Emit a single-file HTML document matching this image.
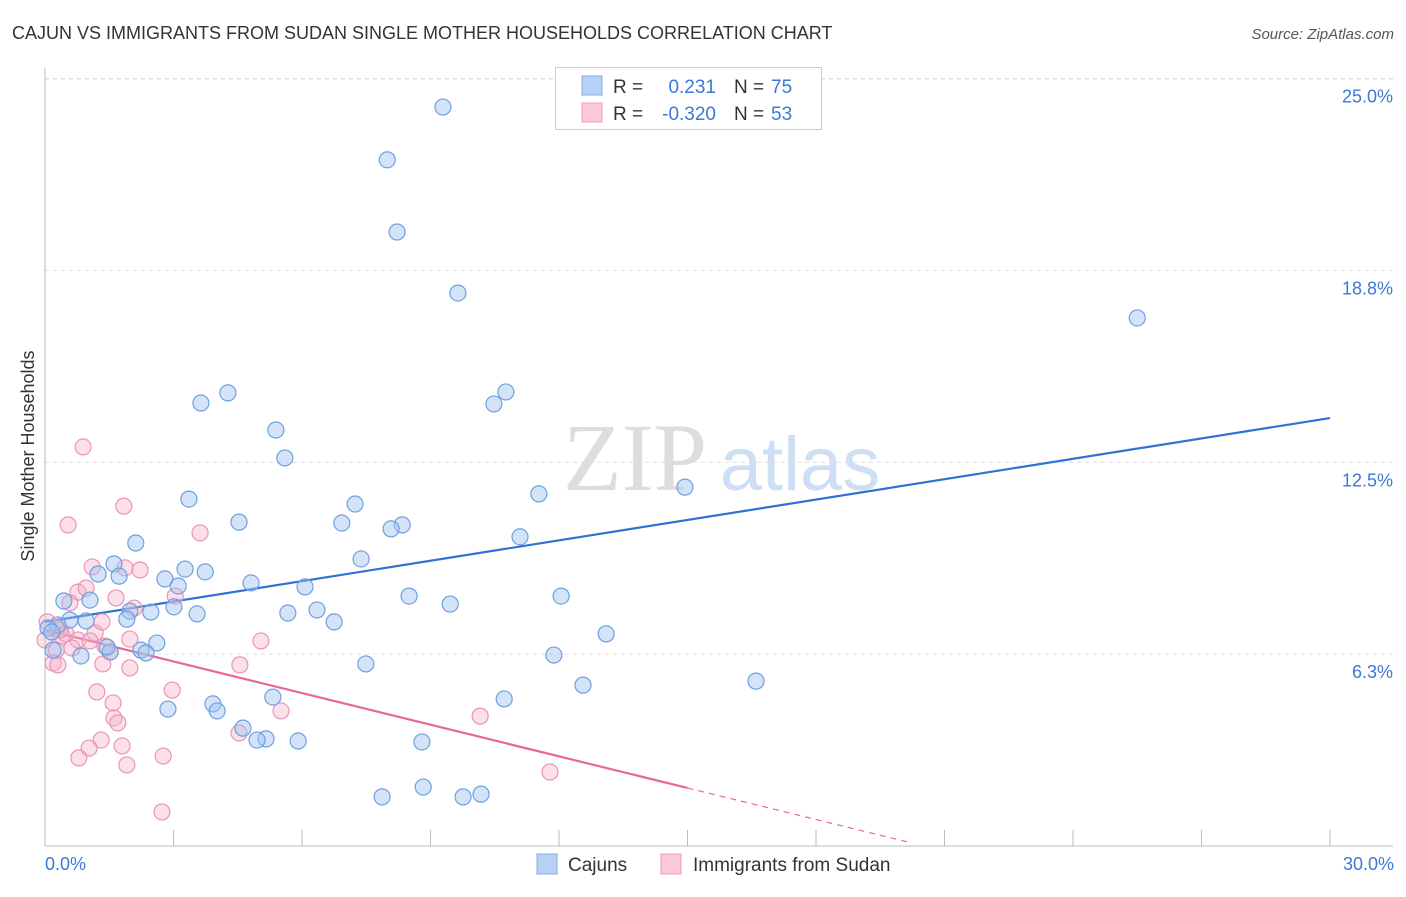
<!DOCTYPE html>
<html><head><meta charset="utf-8"><style>
body{margin:0;background:#fff;font-family:"Liberation Sans",sans-serif;}
</style></head><body>
<svg id="chart" width="1406" height="892" xmlns="http://www.w3.org/2000/svg">
<text x="12" y="39" font-size="18" fill="#333">CAJUN VS IMMIGRANTS FROM SUDAN SINGLE MOTHER HOUSEHOLDS CORRELATION CHART</text>
<text x="1394" y="39" font-size="15" fill="#555" font-style="italic" text-anchor="end">Source: ZipAtlas.com</text>
<g>
<text x="635" y="490" font-size="96" fill="#ddd" font-family="Liberation Serif,serif" text-anchor="middle">ZIP</text>
<text x="800" y="490" font-size="76" fill="#cfdff3" text-anchor="middle">atlas</text>
</g>
<g id="grid"></g><g id="axes"></g><g id="trend"></g><g id="pts"></g>
<text transform="translate(34,456) rotate(-90)" font-size="18" fill="#333" text-anchor="middle">Single Mother Households</text>
<text x="45" y="870" font-size="18" fill="#3b78d8">0.0%</text>
<text x="1394" y="870" font-size="18" fill="#3b78d8" text-anchor="end">30.0%</text>
<g>
<rect x="555.5" y="67.5" width="266" height="62" fill="#fff" stroke="#ccc"/>
<rect x="582" y="76" width="20" height="19" fill="#b8d2f5" stroke="#85aee6"/>
<rect x="582" y="103" width="20" height="19" fill="#fbc8d8" stroke="#ef9ab8"/>
<text x="613" y="93" font-size="19" fill="#333">R =</text>
<text x="716" y="93" font-size="19" fill="#3b78d8" text-anchor="end">0.231</text>
<text x="734" y="93" font-size="19" fill="#333">N =</text>
<text x="771" y="93" font-size="19" fill="#3b78d8">75</text>
<text x="613" y="120" font-size="19" fill="#333">R =</text>
<text x="716" y="120" font-size="19" fill="#3b78d8" text-anchor="end">-0.320</text>
<text x="734" y="120" font-size="19" fill="#333">N =</text>
<text x="771" y="120" font-size="19" fill="#3b78d8">53</text>
</g>
<g>
<rect x="537" y="854" width="20" height="20" fill="#b8d2f5" stroke="#85aee6"/>
<text x="568" y="871" font-size="19" fill="#333">Cajuns</text>
<rect x="661" y="854" width="20" height="20" fill="#fbc8d8" stroke="#ef9ab8"/>
<text x="693" y="871" font-size="19" fill="#333">Immigrants from Sudan</text>
</g>
</svg>
<script>
const yTicks=[6.25,12.5,18.75,25];
const yTickLabels=["6.3%","12.5%","18.8%","25.0%"];
const xTicks=[3,6,9,12,15,18,21,24,27,30];
const cajunX=[9.29,7.99,8.22,9.64,25.50,10.76,10.48,4.27,3.64,5.39,5.60,14.94,11.53,3.36,7.24,4.53,6.93,8.34,8.08,11.09,2.12,7.38,1.61,3.27,3.74,1.24,1.73,2.80,4.81,6.07,12.05,8.50,0.44,1.05,9.46,2.47,3.01,1.98,5.67,6.35,3.55,1.91,6.75,0.58,0.96,0.30,0.07,0.16,13.10,2.61,2.24,2.36,0.19,0.84,1.52,11.88,7.49,16.60,12.56,5.32,10.72,3.92,2.87,4.02,4.62,5.16,4.95,5.91,8.80,8.83,7.87,9.76,10.18,3.11,1.45];
const cajunY=[24.07,22.35,20.0,18.01,17.20,14.79,14.40,14.76,14.43,13.55,12.64,11.69,11.47,11.30,11.14,10.55,10.52,10.46,10.33,10.07,9.87,9.35,9.19,9.02,8.93,8.86,8.79,8.70,8.57,8.44,8.14,8.14,7.98,8.01,7.88,7.62,7.79,7.65,7.59,7.69,7.56,7.39,7.30,7.36,7.33,7.20,7.10,6.97,6.91,6.61,6.38,6.29,6.38,6.19,6.32,6.22,5.93,5.37,5.24,4.85,4.79,4.63,4.46,4.40,3.84,3.49,3.45,3.42,3.39,1.92,1.60,1.60,1.69,8.47,6.48];
const sudanX=[0.89,1.84,0.54,3.62,1.10,1.87,2.22,0.77,0.96,3.04,1.66,0.58,2.08,1.17,0.05,0.28,0.40,0.49,0.77,1.05,1.40,5.04,1.52,0.63,0.26,1.98,1.35,0.19,0.30,4.55,1.21,2.97,1.59,5.51,1.61,1.70,10.16,4.53,1.31,1.03,1.80,2.76,0.79,1.91,11.79,2.73,1.98,1.33,0,0.35];
const sudanY=[13.0,11.07,10.46,10.20,9.09,9.06,8.99,8.27,8.40,8.14,8.08,7.92,7.75,6.94,7.30,7.10,6.84,6.91,6.71,6.68,6.51,6.68,6.32,6.45,6.38,5.80,5.93,5.96,5.90,5.90,5.02,5.08,4.66,4.40,4.17,4.01,4.23,3.68,3.45,3.19,3.26,2.93,2.87,2.64,2.41,1.11,6.74,7.30,6.71,7.04];
const cajunTrend=[[0,7.3],[30,13.94]];
const sudanTrend=[[0,7.04],[15,1.89],[20.2,0.11]];
const NS="http://www.w3.org/2000/svg";
const X=v=>45+v/30*1285;
const Y=v=>846-v*30.7;
function mk(tag,attrs,parent){const e=document.createElementNS(NS,tag);for(const k in attrs)e.setAttribute(k,attrs[k]);document.getElementById(parent).appendChild(e);return e;}
yTicks.forEach((t,i)=>{
 const l=mk('line',{x1:45,x2:1393,y1:Y(t),y2:Y(t),stroke:'#ddd','stroke-dasharray':'4,4'},'grid');
 
 
 const tx=mk('text',{x:1393,y:Y(t)+24,'font-size':18,fill:'#3b78d8','text-anchor':'end'},'grid');
 tx.textContent=yTickLabels[i];
 
 
});
const topGrid=mk('line',{x1:45,x2:1393,y1:79,y2:79,stroke:'#ddd','stroke-dasharray':'4,4'},'grid');


const ya=mk('line',{x1:45,x2:45,y1:68,y2:846,stroke:'#bbb'},'axes');


const xa=mk('line',{x1:45,x2:1393,y1:846,y2:846,stroke:'#bbb'},'axes');


xTicks.forEach(t=>{
 const l=mk('line',{x1:X(t),x2:X(t),y1:830,y2:846,stroke:'#bbb'},'axes');
 
 
});
const bt=mk('line',{x1:X(cajunTrend[0][0]),y1:Y(cajunTrend[0][1]),x2:X(cajunTrend[1][0]),y2:Y(cajunTrend[1][1]),stroke:'#2f72d6','stroke-width':2.2},'trend');


const pt1=mk('line',{x1:X(sudanTrend[0][0]),y1:Y(sudanTrend[0][1]),x2:X(sudanTrend[1][0]),y2:Y(sudanTrend[1][1]),stroke:'#e8679a','stroke-width':2.2},'trend');


const pt2=mk('line',{x1:X(sudanTrend[1][0]),y1:Y(sudanTrend[1][1]),x2:X(sudanTrend[2][0]),y2:Y(sudanTrend[2][1]),stroke:'#e8679a','stroke-width':1.2,'stroke-dasharray':'6,5'},'trend');


sudanX.forEach((x,i)=>{
 const c=mk('circle',{cx:X(x),cy:Y(sudanY[i]),r:8,fill:'rgba(246,175,200,0.4)',stroke:'#ec94b5','stroke-width':1.2},'pts');
 
 
});
cajunX.forEach((x,i)=>{
 const c=mk('circle',{cx:X(x),cy:Y(cajunY[i]),r:8,fill:'rgba(160,195,240,0.45)',stroke:'#6f9fe0','stroke-width':1.2},'pts');
 
 
});
</script>
</body></html>
